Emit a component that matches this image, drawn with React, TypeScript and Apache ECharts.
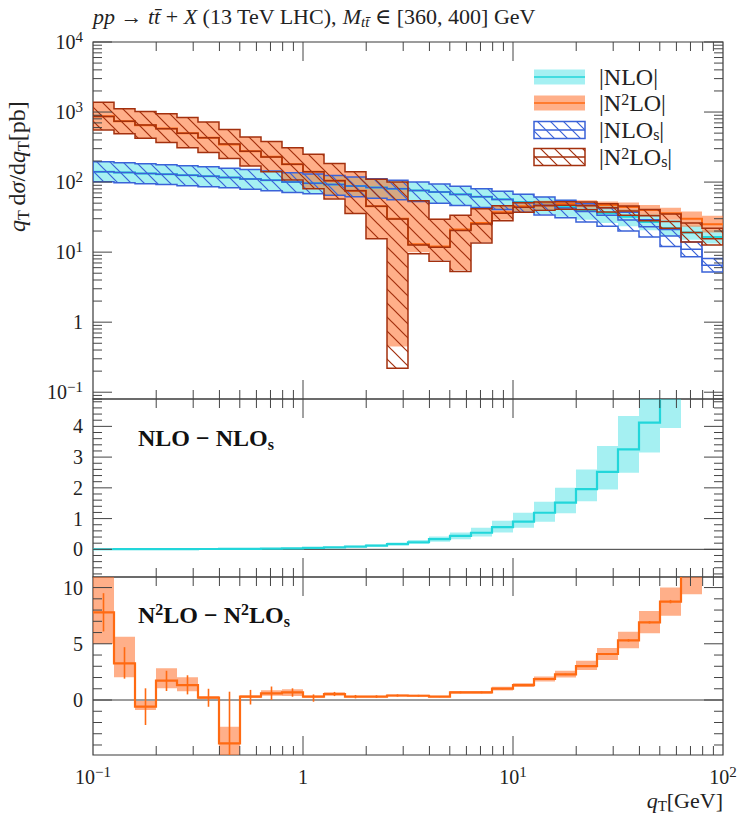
import React, { useEffect, useRef } from 'react';
import * as echarts from 'echarts';

// ---------- data (bin edges in GeV, log-spaced) ----------
const edges = [0.1, 0.1259, 0.1585, 0.1995, 0.2512, 0.3162, 0.3981, 0.5012, 0.631, 0.7943, 1, 1.259, 1.585, 1.995, 2.512, 3.162, 3.981, 5.012, 6.31, 7.943, 10, 12.59, 15.85, 19.95, 25.12, 31.62, 39.81, 50.12, 63.1, 79.43, 100];

const nlo = [141, 137, 133, 129, 125, 121, 116, 111, 106, 100, 96, 92, 88, 84, 80, 76, 72, 67, 62, 57, 52, 48, 44, 40, 36, 32, 27, 22, 19, 16.5];
const nloLo = [101, 98, 95, 92, 89, 86, 83, 79, 75, 71, 68, 65, 62, 59, 56, 53, 50, 47, 44, 41, 38, 35, 32, 29, 26, 23.5, 20.5, 17, 15, 13.3];
const nloHi = [195, 189, 183, 177, 171, 165, 158, 151, 144, 136, 130, 124, 118, 112, 106, 100, 94, 88, 81, 75, 68, 62, 56, 51, 46, 41, 35, 29, 24, 20.6];

const nlos = [141, 137, 133, 129, 125, 121, 116, 111, 106, 100, 96, 92, 88, 84, 80, 76, 72, 66.6, 61.5, 56.3, 51.1, 46.8, 42.5, 38, 33.5, 28.8, 23, 17, 11, 6.5];
const nlosLo = [101, 98, 95, 92, 89, 86, 83, 79, 75, 71, 68, 65, 62, 59, 56, 53, 50, 46.5, 43.5, 40.5, 37, 34, 31, 27, 23.5, 20, 16.5, 12, 8.6, 5.2];
const nlosHi = [195, 189, 183, 177, 171, 165, 158, 151, 144, 136, 130, 124, 118, 112, 106, 100, 94, 87, 80, 74, 67, 61, 55, 49, 43, 37, 29, 21, 14, 8.1];

const n2lo = [870, 740, 650, 580, 500, 430, 345, 275, 230, 180, 140, 105, 75, 45, 30, 13, 12, 21, 26, 37, 45, 48, 49, 49, 47, 44, 40, 36, 30, 25];
const n2loLo = [560, 490, 420, 370, 310, 265, 215, 170, 142, 108, 80, 58, 36, 15.7, 0.45, 10, 7.7, 5.5, 14, 29, 38, 41, 43, 43, 41, 38, 33, 29, 23, 19];
const n2loHi = [1380, 1120, 1020, 950, 840, 720, 560, 440, 380, 310, 250, 185, 140, 110, 100, 55, 30, 34, 42, 47, 52, 54, 55, 55, 53, 51, 47, 43, 38, 33];

const n2los = [862, 737, 651, 578, 499, 430, 349, 275, 229, 179, 140, 104.5, 75, 45, 29.6, 12.6, 11.7, 20.3, 25.3, 36, 43.7, 46.1, 46.7, 46, 42.9, 38.7, 33.1, 27.3, 19, 15.5];
const n2losLo = [555, 488, 421, 368, 309, 265, 217, 169, 141, 107, 80, 57.5, 35.5, 15.5, 0.22, 9.5, 7.4, 5.3, 13.5, 28, 37, 39.5, 41, 40.5, 37.5, 33.5, 28, 22, 14, 12.6];
const n2losHi = [1375, 1118, 1021, 948, 838, 720, 563, 440, 379, 309, 250, 184, 140, 110, 100, 54, 29.5, 33.5, 41.5, 46, 50.5, 52, 52.5, 52, 49, 45.5, 40.5, 35, 26, 22];

const dNlo = [0.003, 0.004, 0.005, 0.006, 0.008, 0.01, 0.013, 0.017, 0.022, 0.03, 0.05, 0.065, 0.09, 0.12, 0.17, 0.23, 0.33, 0.44, 0.54, 0.72, 0.9, 1.19, 1.52, 1.96, 2.52, 3.25, 4.12, 5.1, 6.3, 7.5];
const dNloLo = [0.002, 0.003, 0.004, 0.005, 0.006, 0.008, 0.01, 0.013, 0.017, 0.023, 0.038, 0.05, 0.07, 0.09, 0.13, 0.17, 0.25, 0.33, 0.42, 0.55, 0.7, 0.9, 1.17, 1.56, 1.95, 2.49, 3.15, 3.95, 4.9, 5.8];
const dNloHi = [0.004, 0.005, 0.007, 0.008, 0.011, 0.014, 0.018, 0.023, 0.03, 0.04, 0.065, 0.085, 0.12, 0.16, 0.22, 0.3, 0.42, 0.55, 0.7, 0.93, 1.19, 1.55, 2.0, 2.6, 3.36, 4.34, 5.4, 6.6, 8.2, 9.7];

const dN2lo = [7.8, 3.26, -0.59, 1.72, 1.33, 0.21, -3.85, 0.3, 0.59, 0.68, 0.3, 0.53, 0.3, 0.3, 0.4, 0.38, 0.3, 0.68, 0.68, 1.01, 1.33, 1.87, 2.28, 3.02, 4.09, 5.31, 6.91, 8.75, 11.5, 13.5];
const dN2loLo = [4.98, 2.02, -0.89, 1.04, 0.77, 0.1, -5.5, 0.18, 0.39, 0.36, 0.2, 0.4, 0.22, 0.22, 0.3, 0.3, 0.22, 0.55, 0.55, 0.85, 1.15, 1.65, 2.0, 2.67, 3.56, 4.6, 5.93, 7.5, 9.4, 11.5];
const dN2loHi = [11.5, 5.63, -0.09, 2.82, 2.02, 0.35, -2.37, 0.42, 0.86, 0.95, 0.4, 0.68, 0.38, 0.38, 0.5, 0.46, 0.38, 0.8, 0.8, 1.17, 1.5, 2.1, 2.6, 3.5, 4.63, 6.08, 7.92, 10.0, 13.5, 15.5];
const dN2loErrLo = [6.1, 1.9, -2.22, 0.8, 0.5, -0.6, -6.0, -0.4, 0.0, 0.29, -0.15, 0.35, 0.15, 0.18, 0.3, 0.3, 0.25, 0.6, 0.6, 0.95, 1.28, 1.82, 2.22, 2.95, 4.0, 5.2, 6.8, 8.6, 11.3, 13.2];
const dN2loErrHi = [9.5, 4.7, 1.04, 2.6, 2.2, 1.0, 0.74, 0.9, 1.2, 1.04, 0.5, 0.72, 0.45, 0.42, 0.5, 0.46, 0.35, 0.76, 0.76, 1.07, 1.38, 1.92, 2.34, 3.09, 4.18, 5.42, 7.02, 8.9, 11.7, 13.8];

// ---------- ticks & labels ----------
const xMajorTicks = [1, 10];
const xMinorTicks = [0.2, 0.3, 0.4, 0.5, 0.6, 0.7, 0.8, 0.9, 2, 3, 4, 5, 6, 7, 8, 9, 20, 30, 40, 50, 60, 70, 80, 90];
const xLabelValues = [0.1, 1, 10, 100];
const xLabelTexts = ['{b|10}{sup|−1}', '{b|1}', '{b|10}{sup|1}', '{b|10}{sup|2}'];

const topYMajor = [0.1, 1, 10, 100, 1000, 10000];
const topYMinor = [0.08, 0.09, 0.2, 0.3, 0.4, 0.5, 0.6, 0.7, 0.8, 0.9, 2, 3, 4, 5, 6, 7, 8, 9, 20, 30, 40, 50, 60, 70, 80, 90, 200, 300, 400, 500, 600, 700, 800, 900, 2000, 3000, 4000, 5000, 6000, 7000, 8000, 9000];
const topYLabels = ['{b|10}{sup|−1}', '{b|1}', '{b|10}{sup|1}', '{b|10}{sup|2}', '{b|10}{sup|3}', '{b|10}{sup|4}'];

const midYMajor = [0, 1, 2, 3, 4];
const midYMinor = [-0.8, -0.6, -0.4, -0.2, 0.2, 0.4, 0.6, 0.8, 1.2, 1.4, 1.6, 1.8, 2.2, 2.4, 2.6, 2.8, 3.2, 3.4, 3.6, 3.8, 4.2, 4.4, 4.6, 4.8];
const midYLabels = ['{b|0}', '{b|1}', '{b|2}', '{b|3}', '{b|4}'];

const botYMajor = [0, 5, 10];
const botYMinor = [-4, -3, -2, -1, 1, 2, 3, 4, 6, 7, 8, 9];
const botYLabels = ['{b|0}', '{b|5}', '{b|10}'];

// ---------- styles ----------
const FONT = "'Liberation Serif', 'DejaVu Serif', serif";
const INK = '#222';
const FRAME = '#3a3a3a';
const CYAN = '#22d6da';
const CYAN_FILL = 'rgba(40, 220, 225, 0.42)';
const ORANGE = '#ff6a12';
const ORANGE_FILL = 'rgba(255, 110, 40, 0.55)';
const BLUE = '#3a62d8';
const DARKRED = '#a3300e';

const richBase = {
  b: { fontSize: 20, fontFamily: FONT, lineHeight: 26, fill: INK },
  sup: { fontSize: 15, fontFamily: FONT, verticalAlign: 'top', lineHeight: 14, fill: INK },
};

function makePattern(color: string, size: number, lw: number) {
  const c = document.createElement('canvas');
  c.width = size;
  c.height = size;
  const ctx = c.getContext('2d')!;
  ctx.strokeStyle = color;
  ctx.lineWidth = lw;
  ctx.beginPath();
  for (const off of [-size, 0, size]) {
    ctx.moveTo(-2, off - 2);
    ctx.lineTo(size + 2, off + size + 2);
  }
  ctx.stroke();
  return { image: c, repeat: 'repeat', imageWidth: size, imageHeight: size };
}

function steps(api: any, vals: number[]) {
  const pts: number[][] = [];
  for (let i = 0; i < vals.length; i++) {
    pts.push(api.coord([edges[i], vals[i]]));
    pts.push(api.coord([edges[i + 1], vals[i]]));
  }
  return pts;
}

function bandSeries(gi: number, lo: number[], hi: number[], fill: string) {
  return {
    type: 'custom', xAxisIndex: gi, yAxisIndex: gi, clip: true, silent: true, data: [[1, 1]],
    renderItem: (params: any, api: any) => {
      const pts = [...steps(api, hi), ...steps(api, lo).reverse()];
      return { type: 'polygon', shape: { points: pts }, style: { fill } };
    },
  };
}

function lineSeries(gi: number, vals: number[], color: string, width: number) {
  return {
    type: 'custom', xAxisIndex: gi, yAxisIndex: gi, clip: true, silent: true, data: [[1, 1]],
    renderItem: (params: any, api: any) => ({
      type: 'polyline', shape: { points: steps(api, vals) }, style: { stroke: color, lineWidth: width, fill: null },
    }),
  };
}

function hatchSeries(gi: number, c: number[], lo: number[], hi: number[], color: string, pattern: any) {
  return {
    type: 'custom', xAxisIndex: gi, yAxisIndex: gi, clip: true, silent: true, data: [[1, 1]],
    renderItem: (params: any, api: any) => {
      const pts = [...steps(api, hi), ...steps(api, lo).reverse()];
      return {
        type: 'group',
        children: [
          { type: 'polygon', shape: { points: pts }, style: { fill: pattern, stroke: color, lineWidth: 1.5, lineJoin: 'miter' } },
          { type: 'polyline', shape: { points: steps(api, c) }, style: { stroke: color, lineWidth: 1.5, fill: null } },
        ],
      };
    },
  };
}

function errorSeries(gi: number, lo: number[], hi: number[], color: string) {
  return {
    type: 'custom', xAxisIndex: gi, yAxisIndex: gi, clip: true, silent: true, data: [[1, 1]],
    renderItem: (params: any, api: any) => {
      const ch: any[] = [];
      for (let i = 0; i < lo.length; i++) {
        const xc = Math.sqrt(edges[i] * edges[i + 1]);
        const p1 = api.coord([xc, lo[i]]);
        const p2 = api.coord([xc, hi[i]]);
        ch.push({ type: 'line', shape: { x1: p1[0], y1: p1[1], x2: p2[0], y2: p2[1] }, style: { stroke: color, lineWidth: 1.6 } });
      }
      return { type: 'group', children: ch };
    },
  };
}

function zeroSeries(gi: number) {
  return {
    type: 'custom', xAxisIndex: gi, yAxisIndex: gi, clip: true, silent: true, data: [[1, 1]],
    renderItem: (params: any, api: any) => {
      const a = api.coord([0.1, 0]);
      const b = api.coord([100, 0]);
      return { type: 'line', shape: { x1: a[0], y1: a[1], x2: b[0], y2: b[1] }, style: { stroke: FRAME, lineWidth: 1 } };
    },
  };
}

function axisSeries(gi: number, yMajor: number[], yMinor: number[], yLabels: string[], withXLabels: boolean) {
  return {
    type: 'custom', xAxisIndex: gi, yAxisIndex: gi, clip: false, silent: true, data: [[1, 1]],
    renderItem: (params: any, api: any) => {
      const cs = params.coordSys;
      const L = cs.x, R = cs.x + cs.width, T = cs.y, B = cs.y + cs.height;
      const ch: any[] = [];
      const ln = (x1: number, y1: number, x2: number, y2: number) =>
        ch.push({ type: 'line', shape: { x1, y1, x2, y2 }, style: { stroke: '#444', lineWidth: 1 } });
      const MAJ = 19, MIN = 9;
      xMajorTicks.forEach((v) => { const x = api.coord([v, 1])[0]; ln(x, T, x, T + MAJ); ln(x, B, x, B - MAJ); });
      xMinorTicks.forEach((v) => { const x = api.coord([v, 1])[0]; ln(x, T, x, T + MIN); ln(x, B, x, B - MIN); });
      yMajor.forEach((v, i) => {
        const y = api.coord([1, v])[1];
        ln(L, y, L + MAJ, y); ln(R, y, R - MAJ, y);
        ch.push({
          type: 'text', x: L - 10, y,
          style: { text: yLabels[i], rich: richBase, fontSize: 20, fontFamily: FONT, fill: INK, align: 'right', verticalAlign: 'middle', textAlign: 'right', textVerticalAlign: 'middle' },
        });
      });
      yMinor.forEach((v) => { const y = api.coord([1, v])[1]; ln(L, y, L + MIN, y); ln(R, y, R - MIN, y); });
      if (withXLabels) {
        xLabelValues.forEach((v, i) => {
          const x = api.coord([v, 1])[0];
          ch.push({
            type: 'text', x, y: B + 22,
            style: { text: xLabelTexts[i], rich: richBase, fontSize: 20, fontFamily: FONT, fill: INK, align: 'center', verticalAlign: 'middle', textAlign: 'center', textVerticalAlign: 'middle' },
          });
        });
      }
      return { type: 'group', children: ch };
    },
  };
}

export default function App() {
  const ref = useRef<HTMLDivElement>(null);
  useEffect(() => {
    const chart = echarts.init(ref.current!, undefined, { renderer: 'svg' });
    const bluePat = makePattern(BLUE, 13, 1.2);
    const redPat = makePattern(DARKRED, 14, 1.2);

    const grids = [
      { left: 93, top: 42, width: 630, height: 357 },
      { left: 93, top: 399, width: 630, height: 178 },
      { left: 93, top: 577, width: 630, height: 178 },
    ].map((g) => ({ ...g, show: true, borderColor: FRAME, borderWidth: 1.2, backgroundColor: 'transparent' }));

    const xAxes = [0, 1, 2].map((i) => ({ type: 'log', logBase: 10, min: 0.1, max: 100, gridIndex: i, show: false }));
    const yAxes = [
      { type: 'log', logBase: 10, min: 0.08, max: 10000, gridIndex: 0, show: false },
      { type: 'value', min: -0.9, max: 4.89, gridIndex: 1, show: false },
      { type: 'value', min: -4.89, max: 10.94, gridIndex: 2, show: false },
    ];

    const FS = 22;
    const italic = { fontSize: FS, fontFamily: FONT, fontStyle: 'italic', fill: INK, lineHeight: 26 };
    const roman = { fontSize: FS, fontFamily: FONT, fill: INK, lineHeight: 26 };
    const subItalic = { fontSize: 15, fontFamily: FONT, fontStyle: 'italic', fill: INK, verticalAlign: 'bottom', lineHeight: 15 };
    const subRoman = { fontSize: 15, fontFamily: FONT, fill: INK, verticalAlign: 'bottom', lineHeight: 15 };
    const italicY = { ...italic, fontSize: 24, lineHeight: 28 };
    const romanY = { ...roman, fontSize: 24, lineHeight: 28 };
    const subRomanY = { ...subRoman, fontSize: 16, lineHeight: 16 };
    const legRich = {
      r: { fontSize: 24, fontFamily: FONT, fill: INK, lineHeight: 24 },
      sup: { fontSize: 16, fontFamily: FONT, fill: INK, verticalAlign: 'top', lineHeight: 14 },
      sub: { fontSize: 16, fontFamily: FONT, fill: INK, verticalAlign: 'bottom', lineHeight: 14 },
    };
    const boldRich = {
      b: { fontSize: 24, fontFamily: FONT, fontWeight: 'bold', fill: '#111', lineHeight: 28 },
      bsup: { fontSize: 16, fontFamily: FONT, fontWeight: 'bold', fill: '#111', verticalAlign: 'top', lineHeight: 16 },
      bsub: { fontSize: 16, fontFamily: FONT, fontWeight: 'bold', fill: '#111', verticalAlign: 'bottom', lineHeight: 16 },
    };
    const textEl = (x: number, y: number, text: string, rich: any, align: string, extra: any = {}, base: any = {}) => ({
      type: 'text', x, y, silent: true, ...extra,
      style: {
        text, rich, fontSize: FS, fontFamily: FONT, fill: INK, lineHeight: 26,
        align, verticalAlign: 'middle', textAlign: align, textVerticalAlign: 'middle', ...base,
      },
    });

    const legendRows = [
      { y: 77, kind: 'band', line: CYAN, fill: CYAN_FILL, label: '{r||NLO|}' },
      { y: 103, kind: 'band', line: ORANGE, fill: ORANGE_FILL, label: '{r||N}{sup|2}{r|LO|}' },
      { y: 130, kind: 'hatch', line: BLUE, fill: bluePat, label: '{r||NLO}{sub|s}{r||}' },
      { y: 157, kind: 'hatch', line: DARKRED, fill: redPat, label: '{r||N}{sup|2}{r|LO}{sub|s}{r||}' },
    ];
    const legendEls: any[] = [];
    legendRows.forEach((r) => {
      if (r.kind === 'band') {
        legendEls.push({ type: 'rect', silent: true, shape: { x: 534, y: r.y - 7.5, width: 51, height: 15 }, style: { fill: r.fill } });
      } else {
        legendEls.push({ type: 'rect', silent: true, shape: { x: 534, y: r.y - 8.5, width: 51, height: 17 }, style: { fill: r.fill, stroke: r.line, lineWidth: 1.5 } });
      }
      legendEls.push({ type: 'line', silent: true, shape: { x1: 534, y1: r.y, x2: 585, y2: r.y }, style: { stroke: r.line, lineWidth: 1.6 } });
      legendEls.push(textEl(599, r.y, r.label, legRich, 'left', {}, { fontSize: 24, lineHeight: 24 }));
    });

    const graphics = [
      textEl(93, 16, '{i|pp} → {i|t}{i|t\u0304} + {i|X} (13 TeV LHC), {i|M}{sub|tt\u0304} ∈ [360, 400] GeV', { i: italic, sub: subItalic }, 'left'),
      textEl(17, 232, '{i|q}{sub|T}{r|\u2009d}{i|σ}{r|/d}{i|q}{sub|T}{r|[pb]}', { i: italicY, r: romanY, sub: subRomanY }, 'left', { rotation: Math.PI / 2 }, { fontSize: 24, lineHeight: 28 }),
      textEl(723, 800, '{i|q}{sub|T}{r|[GeV]}', { i: italic, r: roman, sub: subRoman }, 'right'),
      textEl(138, 438, '{b|NLO − NLO}{bsub|s}', boldRich, 'left', {}, { fontWeight: 'bold', fontSize: 24, lineHeight: 28 }),
      textEl(138, 615, '{b|N}{bsup|2}{b|LO − N}{bsup|2}{b|LO}{bsub|s}', boldRich, 'left', {}, { fontWeight: 'bold', fontSize: 24, lineHeight: 28 }),
      ...legendEls,
    ];

    const series: any[] = [
      // top panel
      bandSeries(0, nloLo, nloHi, CYAN_FILL),
      bandSeries(0, n2loLo, n2loHi, ORANGE_FILL),
      lineSeries(0, nlo, CYAN, 2),
      lineSeries(0, n2lo, ORANGE, 2),
      hatchSeries(0, nlos, nlosLo, nlosHi, BLUE, bluePat),
      hatchSeries(0, n2los, n2losLo, n2losHi, DARKRED, redPat),
      // middle panel
      zeroSeries(1),
      bandSeries(1, dNloLo, dNloHi, CYAN_FILL),
      lineSeries(1, dNlo, CYAN, 2.2),
      // bottom panel
      zeroSeries(2),
      bandSeries(2, dN2loLo, dN2loHi, ORANGE_FILL),
      lineSeries(2, dN2lo, ORANGE, 2.2),
      errorSeries(2, dN2loErrLo, dN2loErrHi, ORANGE),
      // axes
      axisSeries(0, topYMajor, topYMinor, topYLabels, false),
      axisSeries(1, midYMajor, midYMinor, midYLabels, false),
      axisSeries(2, botYMajor, botYMinor, botYLabels, true),
    ];

    chart.setOption({
      animation: false,
      backgroundColor: '#fff',
      grid: grids,
      xAxis: xAxes,
      yAxis: yAxes,
      graphic: graphics,
      series,
    });
    return () => chart.dispose();
  }, []);
  return <div ref={ref} style={{ position: 'fixed', left: 0, top: 0, width: 747, height: 815 }} />;
}
